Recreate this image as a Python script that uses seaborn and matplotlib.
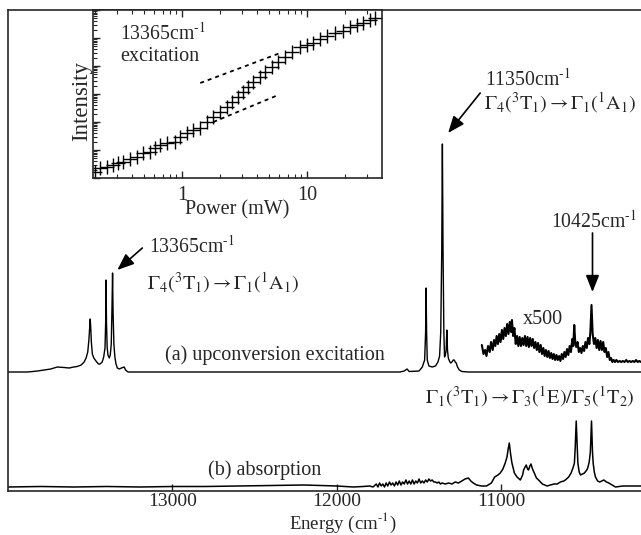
import numpy as np
import matplotlib
matplotlib.use('Agg')
import matplotlib.pyplot as plt
import seaborn as sns
from matplotlib.ticker import LogLocator, NullFormatter, FixedLocator, FixedFormatter

sns.set_style('ticks')
plt.rcParams['font.family'] = ['Liberation Serif', 'DejaVu Serif']
plt.rcParams['mathtext.fontset'] = 'stix'
plt.rcParams['font.size'] = 14.5

# ---------------- data: (a) upconversion excitation spectrum ----------------
a_energy = [14000, 13950, 13880, 13820, 13780, 13740, 13700, 13660, 13628, 13600,
            13579, 13555, 13537, 13525, 13515, 13508, 13503, 13500, 13497, 13493,
            13487, 13478, 13465, 13450, 13440, 13427, 13418, 13410, 13406, 13404,
            13401, 13397, 13392, 13384, 13378, 13372, 13368, 13364, 13361, 13356,
            13350, 13343, 13335, 13323, 13310, 13293, 13285, 13270, 13100, 12000,
            11700, 11616, 11590, 11573, 11560, 11500, 11480, 11466, 11460, 11457,
            11454, 11450, 11440, 11420, 11400, 11385, 11375, 11368, 11362, 11358,
            11354, 11349, 11345, 11340, 11335, 11331, 11327, 11322, 11315, 11308,
            11300, 11292, 11286, 11280, 11274, 11266, 11255, 11240, 11200, 10150]
a_signal = [0, 0, 0, 1, 2, 3, 5, 4.5, 4, 5,
            5.5, 7, 10, 14, 20, 32, 45, 53, 45, 30,
            18, 14, 11, 8, 8, 10, 15, 24, 50, 92,
            50, 25, 17, 14, 17, 28, 60, 99, 60, 28,
            15, 8, 4, 3, 4, 5, 2, 0, 0, 0,
            0, 0, 1, 3, 0.5, 1, 5, 12, 40, 84,
            40, 12, 6, 5, 6, 10, 16, 40, 120, 228,
            120, 40, 15, 17, 22, 42, 22, 14, 11, 9,
            10, 12, 12, 10, 9, 5, 2, 0.5, 0, 0]

# (a) magnified x500 part
x500_energy = [11118, 11108, 11098, 11090, 11080, 11070, 11062, 11052, 11044, 11036,
               11028, 11020, 11012, 11004, 10996, 10988, 10980, 10972, 10964, 10956,
               10948, 10940, 10935, 10928, 10920, 10912, 10904, 10896, 10888, 10880,
               10872, 10864, 10856, 10848, 10840, 10832, 10824, 10816, 10808, 10800,
               10792, 10784, 10776, 10768, 10760, 10752, 10744, 10736, 10728, 10720,
               10712, 10704, 10696, 10688, 10680, 10672, 10664, 10656, 10648, 10640,
               10632, 10624, 10616, 10608, 10600, 10592, 10584, 10576, 10568, 10562,
               10556, 10550, 10544, 10536, 10528, 10520, 10512, 10504, 10496, 10488,
               10480, 10472, 10464, 10458, 10451, 10444, 10436, 10428, 10420, 10412,
               10404, 10396, 10388, 10380, 10372, 10364, 10356, 10348, 10340, 10332,
               10324, 10316, 10308, 10300, 10290, 10280, 10270, 10260, 10250, 10240,
               10230, 10220, 10210, 10200, 10190, 10180, 10170, 10160, 10150]
x500_signal = [27, 18, 22, 16, 26, 20, 30, 22, 32, 26,
               36, 28, 38, 30, 42, 33, 44, 36, 48, 38,
               50, 40, 52, 36, 44, 28, 36, 26, 35, 26,
               34, 27, 36, 26, 35, 25, 34, 26, 33, 24,
               30, 22, 29, 20, 27, 18, 24, 16, 22, 15,
               21, 14, 19, 13, 18, 12, 17, 12, 16, 11,
               18, 13, 20, 15, 23, 17, 26, 20, 33, 26,
               47, 30, 25, 30, 20, 24, 19, 26, 21, 30,
               24, 34, 28, 40, 67, 38, 28, 34, 24, 32,
               22, 31, 22, 30, 20, 24, 15, 20, 12, 14,
               10, 12, 10, 12, 10, 11, 10, 11, 10, 12,
               10, 11, 10, 11, 10, 12, 10, 11, 10]

# ---------------- data: (b) absorption spectrum ----------------
b_energy = [14000, 13800, 13600, 13400, 13200, 13000, 12800, 12600, 12400, 12200,
            12100, 12000, 11900, 11840, 11800, 11780, 11760, 11750, 11740, 11730,
            11720, 11710, 11700, 11690, 11680, 11670, 11660, 11650, 11640, 11630,
            11620, 11610, 11600, 11590, 11580, 11570, 11560, 11550, 11540, 11530,
            11520, 11510, 11500, 11490, 11480, 11470, 11460, 11450, 11440, 11430,
            11420, 11410, 11400, 11390, 11380, 11370, 11360, 11340, 11320, 11300,
            11280, 11260, 11240, 11220, 11200, 11185, 11170, 11150, 11120, 11090,
            11060, 11040, 11020, 11006, 10990, 10976, 10965, 10958, 10951, 10944,
            10935, 10920, 10904, 10884, 10870, 10864, 10855, 10848, 10840, 10834,
            10826, 10819, 10810, 10799, 10786, 10773, 10750, 10721, 10700, 10680,
            10660, 10640, 10620, 10610, 10590, 10575, 10562, 10555, 10550, 10544,
            10538, 10534, 10526, 10518, 10506, 10494, 10480, 10474, 10465, 10458,
            10451, 10445, 10441, 10434, 10427, 10414, 10401, 10388, 10376, 10360,
            10346, 10325, 10305, 10260, 10213, 10150]
b_signal = [0, 0.5, 0, 0.5, 0, 0.5, 0.5, 1, 1.5, 2,
            1.5, 1, 0, 0.5, 1, 0, 3, 0, 4, 1,
            3, 0, 4, 1, 5, 2, 4, 1, 5, 2,
            6, 2, 5, 3, 7, 3, 6, 3, 7, 3,
            6, 4, 8, 4, 6, 4, 7, 5, 8, 6,
            7, 5, 5, 4, 5, 3, 4, 3, 4, 3,
            5, 4, 6, 8, 9, 6, 4, 2, 1, 1,
            4, 10, 12, 14, 18, 24, 30, 38, 44, 34,
            24, 14, 10, 7, 12, 17, 20, 22, 18, 17,
            21, 23, 18, 14, 9, 7, 3, 1, 2, 3,
            3, 5, 6, 7, 10, 14, 20, 24, 40, 66,
            40, 24, 15, 12, 13, 14, 17, 19, 25, 35,
            66, 35, 24, 15, 10, 6, 5, 6, 7, 5,
            4, 2, 0, 1, 1, 1]

# ---------------- data: inset power dependence ----------------
power_mw = [0.202, 0.222, 0.252, 0.282, 0.309, 0.339, 0.386, 0.439, 0.490, 0.557,
            0.611, 0.670, 0.762, 0.884, 0.969, 1.10, 1.23, 1.40, 1.59, 1.78,
            2.02, 2.30, 2.53, 2.82, 3.09, 3.39, 3.72, 4.23, 4.64, 5.28,
            5.89, 6.70, 7.62, 8.83, 10.05, 11.2, 12.8, 14.5, 16.8, 19.5,
            22.2, 25.2, 28.2, 32.1, 35.2]
intensity = [1.64, 2.28, 2.47, 2.91, 3.43, 3.73, 4.77, 5.62, 7.81, 8.48,
             11.8, 15.1, 17.8, 19.3, 29.1, 40.5, 51.8, 61.1, 100, 151,
             228, 343, 518, 781, 1179, 1778, 2683, 4047, 6105, 9210,
             13895, 20962, 31623, 47705, 56234, 66238, 92100, 117900, 151000, 177800,
             247000, 291000, 343000, 439000, 518000]
guide_upper_power = [1.40, 6.1]
guide_upper_int = [2471, 29100]
guide_lower_power = [1.78, 5.89]
guide_lower_int = [100, 921]

xticks_main = [13000, 12000, 11000]
xtick_labels_main = ['13000', '12000', '11000']

# ---------------- figure ----------------
fig = plt.figure(figsize=(6.41, 5.35), dpi=100)
ax = fig.add_axes([8 / 641, 1 - 491 / 535, 633 / 641, 481 / 535])

offset_a = 119
offset_b = 4

sns.lineplot(x=a_energy, y=np.array(a_signal) + offset_a, ax=ax, color='k', lw=1.0,
             estimator=None, sort=False)
sns.lineplot(x=x500_energy, y=np.array(x500_signal) + offset_a, ax=ax, color='k', lw=1.5,
             estimator=None, sort=False)
sns.lineplot(x=b_energy, y=np.array(b_signal) + offset_b, ax=ax, color='k', lw=1.1,
             estimator=None, sort=False)

ax.set_xlim(14000, 10150)
ax.set_ylim(0, 481)
ax.set_yticks([])
ax.set_ylabel('')
ax.xaxis.set_major_locator(FixedLocator(xticks_main))
ax.xaxis.set_major_formatter(FixedFormatter(xtick_labels_main))
ax.tick_params(axis='x', direction='in', length=5, width=1, pad=1.5, labelsize=14)
for s in ['left', 'top', 'bottom']:
    ax.spines[s].set_linewidth(1.2)
ax.spines['right'].set_visible(False)
ax.set_xlabel(r'Energy (cm$^{\text{-}1}$)', fontsize=13.5)
ax.xaxis.set_label_coords(0.529, -0.042)

arrow_kw = dict(arrowstyle='-|>,head_length=0.7,head_width=0.28', color='k', lw=1.2,
                shrinkA=0, shrinkB=0)
ax.annotate('', xy=(13335, 221), xytext=(13183, 243), arrowprops=arrow_kw)
ax.annotate('', xy=(11323, 358), xytext=(11128, 398), arrowprops=arrow_kw)
ax.annotate('', xy=(10445, 199), xytext=(10445, 258), arrowprops=arrow_kw)

lab = 14.2
ax.text(13140, 244, r'13365cm$^{\text{-}1}$', ha='left', va='center', fontsize=lab)
ax.text(13152, 208, r'$\mathrm{\Gamma_4(^3T_1) \rightarrow \Gamma_1(^1A_1)}$', ha='left', va='center')
ax.text(11098, 411, r'11350cm$^{\text{-}1}$', ha='left', va='center', fontsize=lab)
ax.text(11104, 388, r'$\mathrm{\Gamma_4(^3T_1) \rightarrow \Gamma_1(^1A_1)}$', ha='left', va='center')
ax.text(10695, 269, r'10425cm$^{\text{-}1}$', ha='left', va='center', fontsize=lab)
ax.text(10744, 171, 'x500', ha='center', va='center')
ax.text(12375, 136, '(a) upconversion excitation', ha='center', va='center')
ax.text(12442, 21, '(b) absorption', ha='center', va='center')
ax.text(11463, 94, r'$\mathrm{\Gamma_1(^3T_1) \rightarrow \Gamma_3(^1E)/\Gamma_5(^1T_2)}$',
        ha='left', va='center')

# ---------------- inset ----------------
ins = fig.add_axes([93 / 641, 1 - 178 / 535, 289 / 641, 168 / 535])
ins.set_facecolor('white')
sns.scatterplot(x=power_mw, y=intensity, ax=ins, marker='+', s=100, color='k',
                linewidth=1.0)
sns.lineplot(x=guide_upper_power, y=guide_upper_int, ax=ins, color='k', lw=1.3,
             linestyle=(0, (2.2, 2.2)), estimator=None, sort=False)
sns.lineplot(x=guide_lower_power, y=guide_lower_int, ax=ins, color='k', lw=1.3,
             linestyle=(0, (2.2, 2.2)), estimator=None, sort=False)
ins.set_xscale('log')
ins.set_yscale('log')
ins.set_xlim(0.194, 39.8)
ins.set_ylim(1, 1e6)
ins.xaxis.set_major_locator(FixedLocator([1, 10]))
ins.xaxis.set_major_formatter(FixedFormatter(['1', '10']))
ins.xaxis.set_minor_locator(LogLocator(base=10, subs=np.arange(2, 10)))
ins.xaxis.set_minor_formatter(NullFormatter())
ins.yaxis.set_major_locator(LogLocator(base=10, numticks=10))
ins.yaxis.set_minor_locator(LogLocator(base=10, subs=np.arange(2, 10), numticks=20))
ins.yaxis.set_major_formatter(NullFormatter())
ins.yaxis.set_minor_formatter(NullFormatter())
ins.tick_params(axis='x', which='both', direction='in', top=True, bottom=True,
                labelsize=14.5, pad=6)
ins.tick_params(axis='x', which='major', length=5, width=1)
ins.tick_params(axis='x', which='minor', length=3, width=0.8)
ins.tick_params(axis='y', which='both', direction='in', left=True, right=False)
ins.tick_params(axis='y', which='major', length=5, width=1)
ins.tick_params(axis='y', which='minor', length=3, width=0.8)
for s in ins.spines.values():
    s.set_linewidth(1.2)
ins.set_xlabel('Power (mW)', fontsize=14.5)
ins.xaxis.set_label_coords(0.5, -0.135)
ins.set_ylabel('Intensity', fontsize=16.5)
ins.yaxis.set_label_coords(-0.002, 0.46)
ins.text(0.093, 0.857, r'13365cm$^{\text{-}1}$', transform=ins.transAxes, ha='left',
         va='center', fontsize=lab)
ins.text(0.093, 0.726, 'excitation', transform=ins.transAxes, ha='left', va='center')

fig.savefig('out.png', dpi=100)
